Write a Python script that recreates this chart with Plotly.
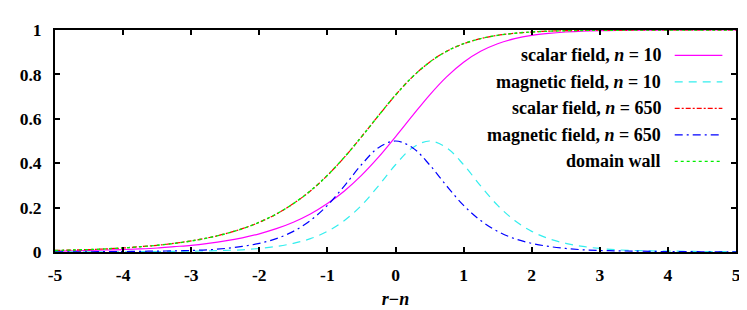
import plotly.graph_objects as go

# ---- data ----
r_minus_n = [-5.0, -4.75, -4.5, -4.25, -4.0, -3.75, -3.5, -3.25, -3.0, -2.75,
             -2.5, -2.25, -2.0, -1.75, -1.5, -1.25, -1.0, -0.75, -0.5, -0.25,
             0.0, 0.25, 0.5, 0.75, 1.0, 1.25, 1.5, 1.75, 2.0, 2.25,
             2.5, 2.75, 3.0, 3.25, 3.5, 3.75, 4.0, 4.25, 4.5, 4.75, 5.0]

scalar_n10 = [0.004, 0.005, 0.007, 0.009, 0.011, 0.014, 0.018, 0.024, 0.030, 0.039,
              0.050, 0.064, 0.082, 0.105, 0.134, 0.171, 0.218, 0.275, 0.345, 0.427,
              0.519, 0.614, 0.707, 0.789, 0.855, 0.904, 0.938, 0.961, 0.976, 0.985,
              0.991, 0.995, 0.997, 0.998, 0.999, 0.999, 1.0, 1.0, 1.0, 1.0, 1.0]

magnetic_n10 = [0.001, 0.001, 0.001, 0.001, 0.001, 0.002, 0.002, 0.003, 0.004, 0.005,
                0.007, 0.010, 0.016, 0.025, 0.039, 0.060, 0.093, 0.142, 0.210, 0.298,
                0.393, 0.470, 0.500, 0.470, 0.393, 0.298, 0.210, 0.142, 0.093, 0.060,
                0.039, 0.025, 0.016, 0.010, 0.007, 0.005, 0.004, 0.003, 0.002, 0.002, 0.001]

scalar_n650 = [0.007, 0.009, 0.011, 0.014, 0.018, 0.024, 0.030, 0.039, 0.050, 0.064,
               0.082, 0.105, 0.134, 0.171, 0.218, 0.275, 0.345, 0.427, 0.519, 0.614,
               0.707, 0.789, 0.855, 0.904, 0.938, 0.961, 0.976, 0.985, 0.991, 0.995,
               0.997, 0.998, 0.999, 0.999, 1.0, 1.0, 1.0, 1.0, 1.0, 1.0, 1.0]

magnetic_n650 = [0.001, 0.001, 0.001, 0.002, 0.002, 0.003, 0.004, 0.005, 0.007, 0.010,
                 0.016, 0.025, 0.039, 0.060, 0.093, 0.142, 0.210, 0.298, 0.393, 0.470,
                 0.500, 0.470, 0.393, 0.298, 0.210, 0.142, 0.093, 0.060, 0.039, 0.025,
                 0.016, 0.010, 0.007, 0.005, 0.004, 0.003, 0.002, 0.002, 0.001, 0.001, 0.001]

domain_wall = [0.0067, 0.0087, 0.0111, 0.0143, 0.0183, 0.0235, 0.0302, 0.0387, 0.0497, 0.0638,
               0.0818, 0.1048, 0.1341, 0.1712, 0.2178, 0.2754, 0.3453, 0.4271, 0.5186, 0.6144,
               0.7071, 0.7890, 0.8550, 0.9042, 0.9384, 0.9613, 0.9760, 0.9852, 0.9910, 0.9945,
               0.9966, 0.9980, 0.9988, 0.9992, 0.9995, 0.9997, 0.9998, 0.9999, 0.9999, 1.0, 1.0]

series_labels = ["scalar field, <i>n</i> = 10",
                 "magnetic field, <i>n</i> = 10",
                 "scalar field, <i>n</i> = 650",
                 "magnetic field, <i>n</i> = 650",
                 "domain wall"]
x_ticks = [-5, -4, -3, -2, -1, 0, 1, 2, 3, 4, 5]
y_ticks = [0, 0.2, 0.4, 0.6, 0.8, 1]
y_tick_text = ["0", "0.2", "0.4", "0.6", "0.8", "1"]

# ---- styles ----
series_values = [scalar_n10, magnetic_n10, scalar_n650, magnetic_n650, domain_wall]
colors = ["#ff00ff", "#33eeee", "#ff0000", "#0000ff", "#00ee00"]
dashes = ["solid", "8px,6px", "5px,2px,2px,2px", "8px,4px,2px,4px", "3px,3px"]
widths = [1.2, 1.2, 1.2, 1.2, 1.4]

FONT = "Liberation Serif"

fig = go.Figure()
for vals, lab, col, dsh, w in zip(series_values, series_labels, colors, dashes, widths):
    fig.add_trace(go.Scatter(x=r_minus_n, y=vals, mode="lines", name=lab,
                             line=dict(color=col, dash=dsh, width=w, shape="spline"),
                             showlegend=False))

# ---- legend drawn manually (text left of sample line) ----
leg_text_x = 0.893
leg_line_x0, leg_line_x1 = 0.910, 0.980
leg_y0, leg_dy = 0.886, 0.1195
for i, (lab, col, dsh, w) in enumerate(zip(series_labels, colors, dashes, widths)):
    yy = leg_y0 - i * leg_dy
    fig.add_annotation(x=leg_text_x, y=yy, xref="paper", yref="paper",
                       text="<b>" + lab + "</b>", showarrow=False,
                       xanchor="right", yanchor="middle",
                       font=dict(family=FONT, size=18, color="black"))
    fig.add_shape(type="line", xref="paper", yref="paper",
                  x0=leg_line_x0, x1=leg_line_x1, y0=yy, y1=yy,
                  line=dict(color=col, dash=dsh, width=w))

axis_common = dict(showline=True, linecolor="black", linewidth=2, mirror="allticks",
                   ticks="inside", ticklen=5, tickwidth=1.5, tickcolor="black",
                   showgrid=False, zeroline=False,
                   tickfont=dict(family=FONT, size=17.5, color="black", weight="bold"))

fig.update_xaxes(range=[-5, 5], tickvals=x_ticks, ticktext=[str(v) for v in x_ticks],
                 title=dict(text="<b><i>r</i>−<i>n</i></b>", standoff=8,
                            font=dict(family=FONT, size=18, color="black")),
                 ticklabelstandoff=6, **axis_common)
fig.update_yaxes(range=[0, 1], tickvals=y_ticks, ticktext=y_tick_text,
                 ticklabelstandoff=8, **axis_common)

fig.update_layout(width=747, height=310, autosize=False,
                  margin=dict(l=38, r=19, t=18, b=62),
                  font=dict(family=FONT),
                  paper_bgcolor="white", plot_bgcolor="white")

fig.write_html("out.html")
